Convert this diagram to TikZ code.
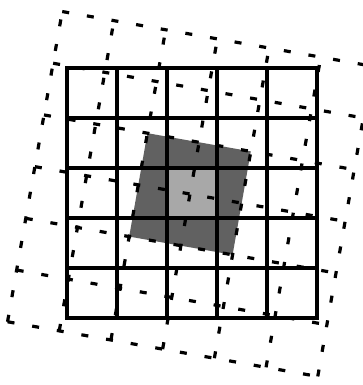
\documentclass[tikz,border=0pt]{standalone}
\usepackage{tikz}
\usetikzlibrary{calc}

\begin{document}
\begin{tikzpicture}[
    x=1pt, y=1pt,
    fixedline/.style={line width=3.4pt, black, line cap=rect},
    rotline/.style={line width=3.2pt, black, dash pattern=on 7pt off 18pt},
  ]
  \def\cellw{50}
  \def\rotw{52.5}
  \def\rotang{-10}

  \definecolor{darkcell}{gray}{0.38}
  \definecolor{lightcell}{gray}{0.66}

  \useasboundingbox (0,0) rectangle (363,385);

  % rotated 2x2 block round the centre
  \begin{scope}[shift={(190,191)}, rotate=\rotang]
    \fill[darkcell] (-\rotw,-\rotw) rectangle (\rotw,\rotw);
  \end{scope}
  \fill[lightcell] (167,167) rectangle (217,217);

  % rotated dashed grid
  \begin{scope}[shift={(190,191)}, rotate=\rotang]
    \foreach \k in {-3,...,3} {
      \draw[rotline] (\k*\rotw, -3*\rotw) -- (\k*\rotw, 3*\rotw);
      \draw[rotline] (-3*\rotw, \k*\rotw) -- (3*\rotw, \k*\rotw);
    }
  \end{scope}

  % fixed grid
  \begin{scope}[shift={(67,67)}]
    \foreach \k in {0,...,5} {
      \draw[fixedline] (\k*\cellw, 0) -- (\k*\cellw, 5*\cellw);
      \draw[fixedline] (0, \k*\cellw) -- (5*\cellw, \k*\cellw);
    }
  \end{scope}
\end{tikzpicture}
\end{document}
